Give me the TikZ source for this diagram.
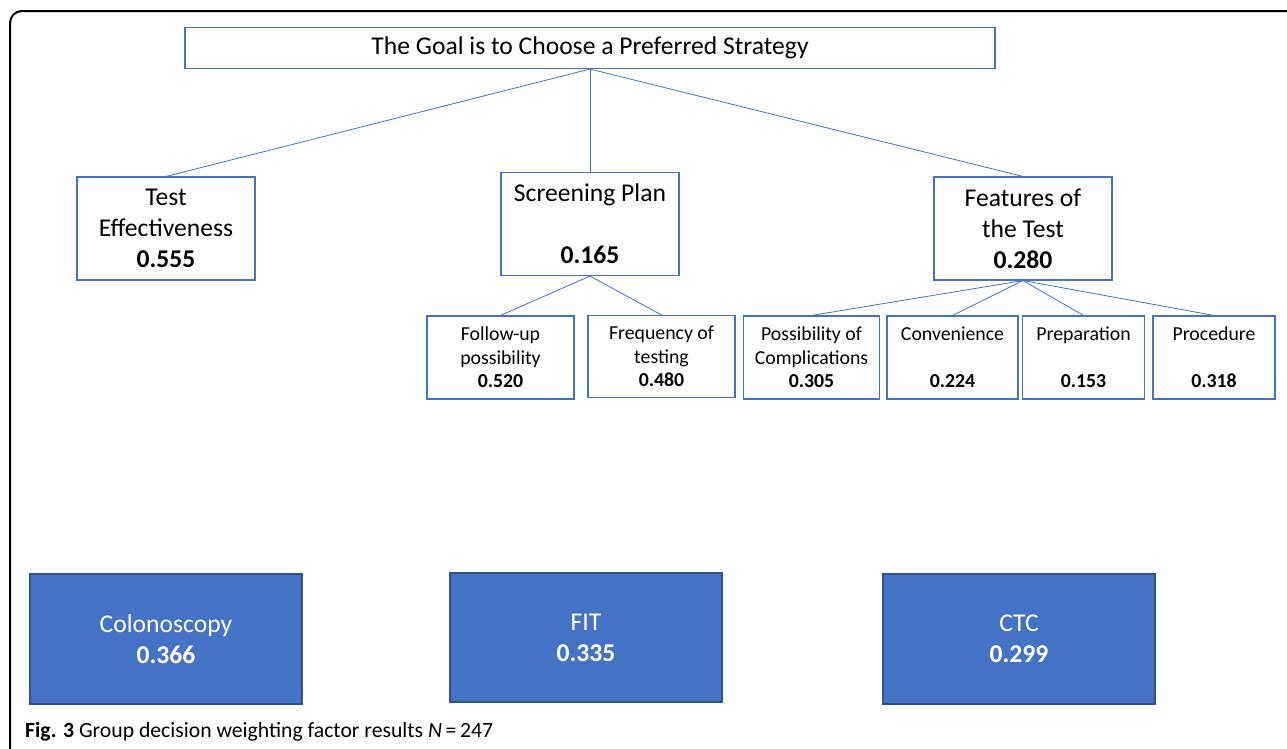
\documentclass[tikz,border=0pt]{standalone}
\usepackage{fontspec}
\setmainfont{Carlito}
\usepackage{xcolor}
\definecolor{boxblue}{HTML}{4472C4}
\definecolor{edgeblue}{HTML}{2F528F}
\newcommand{\bigtxt}{\fontsize{25.6}{31}\selectfont}
\newcommand{\smalltxt}{\fontsize{19.8}{23.5}\selectfont}

\begin{document}
\begin{tikzpicture}[x=1pt,y=-1pt,-,thin,
    crit box/.style={draw=boxblue,line width=1.1pt,rectangle,inner sep=0pt,align=center,minimum width=178pt,minimum height=103pt,font=\bigtxt},
    sub box/.style={draw=boxblue,line width=1.1pt,rectangle,inner sep=0pt,align=center,minimum height=83pt,font=\smalltxt},
    alt box/.style={fill=boxblue,draw=edgeblue,line width=1.1pt,rectangle,inner sep=0pt,align=center,minimum width=272pt,minimum height=130pt,text=white,font=\bigtxt},
    link/.style={draw=boxblue,line width=0.8pt}]

            \useasboundingbox (0,0) rectangle (1287,748);
            \draw[line width=2pt, rounded corners=12pt] (1295,11) -- (10,11) -- (10,760) -- (40,760);

            \node[draw=boxblue, line width=1.1pt, minimum width=810pt, minimum height=41pt, inner sep=0pt, font=\bigtxt] (goal) at (590,48) {The Goal is to Choose a Preferred Strategy};

            \node[crit box] (te) at (166,228.5) {Test\\ Effectiveness\\ \textbf{0.555}};
            \node[crit box] (sp) at (590,224) {Screening Plan\\ \strut\\ \textbf{0.165}};
            \node[crit box] (ft) at (1023,228.5) {Features of\\ the Test\\ \textbf{0.280}};

            \node[sub box, minimum width=147pt] (fu) at (500.5,357.5) {Follow-up\\ possibility\\ \textbf{0.520}};
            \node[sub box, minimum width=147pt, minimum height=82pt] (fq) at (661.5,356.5) {Frequency of\\ testing\\ \textbf{0.480}};
            \node[sub box, minimum width=136pt] (pc) at (811.5,357.5) {Possibility of\\ Complications\\ \textbf{0.305}};
            \node[sub box, minimum width=131pt] (cv) at (952.5,357.5) {Convenience\\ \strut\\ \textbf{0.224}};
            \node[sub box, minimum width=122pt] (pr) at (1083.5,357.5) {Preparation\\ \strut\\ \textbf{0.153}};
            \node[sub box, minimum width=122pt] (pd) at (1214,357.5) {Procedure\\ \strut\\ \textbf{0.318}};

            \node[alt box] (col) at (166,639) {Colonoscopy\\ \textbf{0.366}};
            \node[alt box, minimum height=129pt] (fit) at (586,637.5) {FIT\\ \textbf{0.335}};
            \node[alt box] (ctc) at (1019,639) {CTC\\ \textbf{0.299}};

                \draw[link] (goal.south) to (te.north);
                \draw[link] (goal.south) to (sp.north);
                \draw[link] (goal.south) to (ft.north);
                \draw[link] (sp.south) to (fu.north);
                \draw[link] (sp.south) to (fq.north);
                \draw[link] (ft.south) to (pc.north);
                \draw[link] (ft.south) to (cv.north);
                \draw[link] (ft.south) to (pr.north);
                \draw[link] (ft.south) to (pd.north);
            ;

            \node[anchor=base west, inner sep=0pt, font=\fontsize{21.7}{25}\selectfont] (caption) at (25,737) {\textbf{Fig. 3} Group decision weighting factor results \textit{N}\,=\,247};
        \end{tikzpicture}
\end{document}
